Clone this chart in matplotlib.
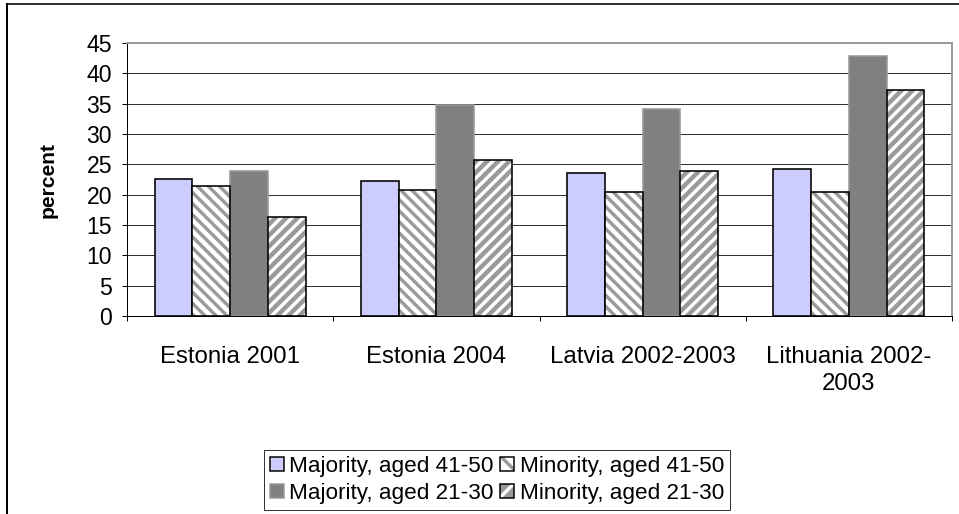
import numpy as np
import matplotlib
matplotlib.use('Agg')
import matplotlib.pyplot as plt
from matplotlib.patches import Patch
from matplotlib.lines import Line2D

# survey results, percent of respondents
CATEGORIES = ['Estonia 2001', 'Estonia 2004', 'Latvia 2002-2003', 'Lithuania 2002-\n2003']
SERIES = ['Majority, aged 41-50', 'Minority, aged 41-50',
          'Majority, aged 21-30', 'Minority, aged 21-30']
MAJ_41_50 = [22.6, 22.3, 23.5, 24.2]
MIN_41_50 = [21.4, 20.7, 20.4, 20.4]
MAJ_21_30 = [23.9, 34.8, 34.2, 42.9]
MIN_21_30 = [16.4, 25.7, 23.9, 37.3]
Y_TICKS = list(range(0, 50, 5))

DPI = 133


def pt(px):
    return px * 72 / DPI


plt.rcParams['font.family'] = ['Liberation Sans', 'DejaVu Sans']
plt.rcParams['hatch.linewidth'] = pt(3.4)

# face, hatch, hatch colour, outline colour
STYLES = [
    ('#ccccff', None, None, 'black'),
    ('white', '\\\\\\\\', '#9a9a9a', 'black'),
    ('#808080', None, None, '#9a9a9a'),
    ('#9a9a9a', '////', 'white', 'black'),
]

fig = plt.figure(figsize=(959 / DPI, 514 / DPI), dpi=DPI)
ax = fig.add_axes([127 / 959, 1 - 316 / 514, 825 / 959, 273 / 514])

x = np.arange(len(CATEGORIES))
w = 0.183
values = [MAJ_41_50, MIN_41_50, MAJ_21_30, MIN_21_30]
for i, (vals, (fc, hatch, hc, ec)) in enumerate(zip(values, STYLES)):
    pos = x + (i - 1.5) * w
    if hatch:
        ax.bar(pos, vals, w, color=fc, hatch=hatch, edgecolor=hc, linewidth=0, zorder=3)
        ax.bar(pos, vals, w, fill=False, edgecolor=ec, linewidth=pt(1.6), zorder=4)
    else:
        ax.bar(pos, vals, w, color=fc, edgecolor=ec, linewidth=pt(1.6), zorder=3)

ax.set_xlim(-0.5, len(CATEGORIES) - 0.5)
ax.set_ylim(0, 45)
ax.set_yticks(Y_TICKS)
ax.tick_params(axis='y', length=pt(5), width=pt(1), pad=pt(10), labelsize=pt(23))
ax.yaxis.grid(True, color='#303030', linewidth=pt(1))
ax.set_axisbelow(True)

# tick marks at category boundaries, labels at centres
ax.set_xticks(np.arange(len(CATEGORIES) + 1) - 0.5)
ax.set_xticklabels([])
ax.tick_params(axis='x', which='major', length=pt(5), width=pt(1))
ax.set_xticks(x, minor=True)
ax.set_xticklabels(CATEGORIES, minor=True, fontsize=pt(24), linespacing=1.3)
ax.tick_params(axis='x', which='minor', length=0, pad=pt(30))

for side in ('top', 'right'):
    ax.spines[side].set_color('#9a9a9a')
    ax.spines[side].set_linewidth(pt(2))
for side in ('left', 'bottom'):
    ax.spines[side].set_color('black')
    ax.spines[side].set_linewidth(pt(1))

ax.set_ylabel('percent', fontsize=pt(21), fontweight='bold')
ax.yaxis.set_label_coords(-0.084, 0.5)

# legend keys: hatched fill with a separate outline on top
handles = []
for fc, hatch, hc, ec in STYLES:
    if hatch:
        handles.append((Patch(facecolor=fc, hatch=hatch[:2], edgecolor=hc, linewidth=0),
                        Patch(fill=False, edgecolor=ec, linewidth=pt(1.5))))
    else:
        handles.append(Patch(facecolor=fc, edgecolor=ec, linewidth=pt(1.5)))

# two columns: 41-50 on the first row, 21-30 on the second
order = [0, 2, 1, 3]
leg = fig.legend([handles[i] for i in order], [SERIES[i] for i in order],
                 loc='center', bbox_to_anchor=(497 / 959, 1 - 480 / 514),
                 ncol=2, fontsize=pt(22.5), frameon=True, fancybox=False,
                 edgecolor='black', handlelength=0.6, handleheight=0.6,
                 handletextpad=0.25, columnspacing=0.3, borderpad=0.25,
                 labelspacing=0.28, borderaxespad=0)
leg.get_frame().set_linewidth(pt(1))

# outer chart frame
fig.add_artist(Line2D([7 / 959, 1], [1 - 4 / 514, 1 - 4 / 514], color='#333333',
                      linewidth=pt(2), transform=fig.transFigure))
fig.add_artist(Line2D([7 / 959, 7 / 959], [0, 1 - 4 / 514], color='black',
                      linewidth=pt(2), transform=fig.transFigure))

fig.savefig('out.png', dpi=DPI)
